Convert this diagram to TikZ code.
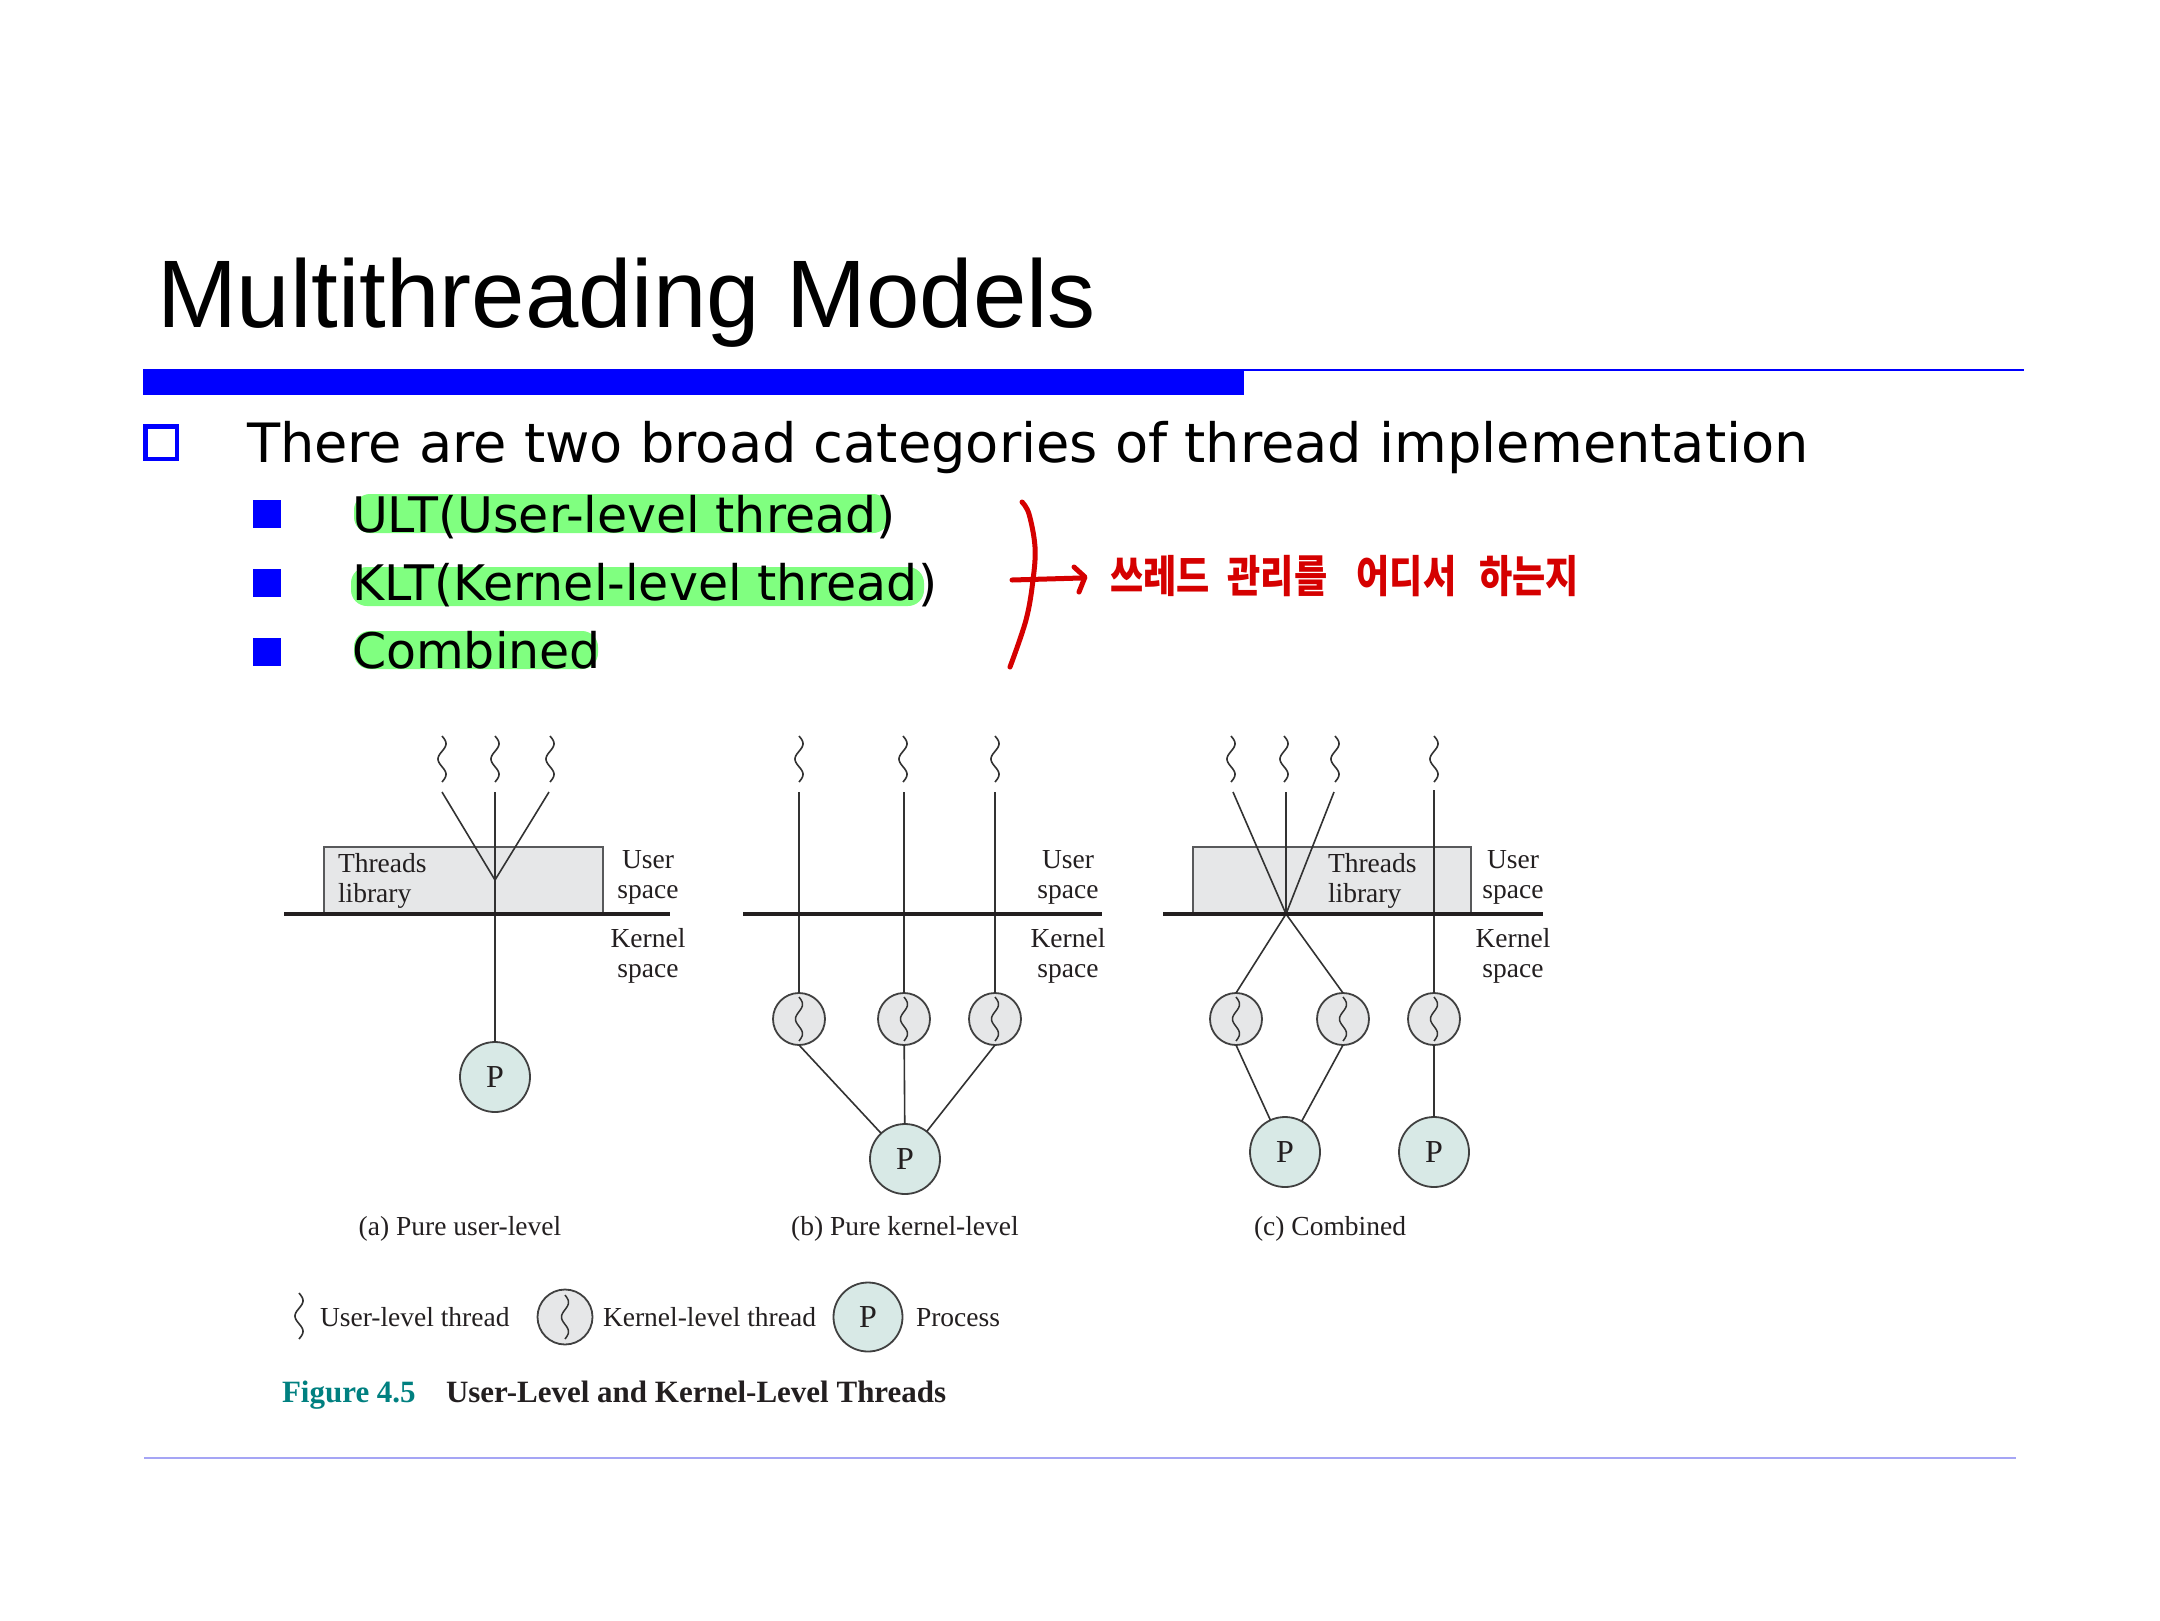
\documentclass[tikz,border=0pt]{standalone}
\usepackage{fontspec}
\setmainfont{Liberation Serif}
\newfontfamily\arialf{Liberation Sans}
\newfontfamily\verdf{DejaVu Sans}
\newfontfamily\krf{Noto Sans CJK KR}
\definecolor{hl}{RGB}{128,255,128}
\definecolor{annred}{RGB}{213,0,0}
\definecolor{figtext}{RGB}{35,31,32}
\definecolor{linec}{RGB}{50,50,50}
\definecolor{circc}{RGB}{64,64,64}
\definecolor{boxc}{RGB}{88,89,91}
\definecolor{kfill}{RGB}{230,231,232}
\definecolor{procfill}{RGB}{216,233,230}
\definecolor{figteal}{RGB}{0,128,128}
\definecolor{botline}{RGB}{165,165,245}
\begin{document}
\begin{tikzpicture}[x=1pt,y=-1pt,
  every node/.style={inner sep=0pt, outer sep=0pt},
  lbl/.style={text=figtext, font=\fontsize{27.5}{30}\selectfont},
  conn/.style={draw=linec, line width=1.6pt},
  sepline/.style={draw=figtext, line width=4.5pt},
  libbox/.style={draw=boxc, line width=1.5pt, fill=kfill, minimum width=279pt, minimum height=68pt, anchor=north west},
  proc/.style={circle, draw=circc, line width=1.8pt, fill=procfill, minimum size=70pt, text=figtext, font=\fontsize{32}{32}\selectfont},
  kthr/.style={circle, draw=circc, line width=1.8pt, fill=kfill, minimum size=52pt,
    path picture={\draw[line width=1.5pt, draw=linec, shift={(path picture bounding box.center)}]
      plot[domain=0:1, samples=40, variable=\t, smooth] ({3.5*sin(540*\t)},{44*\t-22});}},
  uthr/.pic={\draw[line width=1.6pt, draw=linec]
      plot[domain=0:1, samples=50, variable=\t, smooth] ({4*sin(540*\t)},{46*\t-23});},
  lvtwo/.style={anchor=base west, font=\verdf\fontsize{49}{56}\selectfont},
  redpen/.style={draw=annred, line width=5pt, line cap=round, line join=round}
]
\useasboundingbox (0,0) rectangle (2160,1620);
\fill[white] (0,0) rectangle (2160,1620);

% ---------- title and rules ----------
\node[anchor=base west, font=\arialf\fontsize{96}{110}\selectfont] (title) at (157,327) {Multithreading Models};
\fill[blue] (143,369) rectangle (1244,395);
\fill[blue] (1244,368.5) rectangle (2024,371);
\draw[draw=botline, line width=2.2pt] (144,1458) -- (2016,1458);

% ---------- bullets ----------
\draw[blue, line width=4.5pt] (145.25,426.25) rectangle (176.75,458.75);
\node[anchor=base west, font=\verdf\fontsize{54.2}{60}\selectfont] (l1) at (247,462) {There are two broad categories of thread implementation};

\fill[blue] (253,500) rectangle (281,528);
\fill[blue] (253,569) rectangle (281,597);
\fill[blue] (253,638) rectangle (281,666);

\fill[hl, rounded corners=16pt] (354,494) rectangle (889,533);
\fill[hl, rounded corners=16pt] (351,567) rectangle (924,606);
\fill[hl, rounded corners=16pt] (354,631) rectangle (598,669);

\node[lvtwo] (ult) at (352,532) {ULT(User-level thread)};
\node[lvtwo] (klt) at (352,600) {KLT(Kernel-level thread)};
\node[lvtwo] (comb) at (352,668) {Combined};

% ---------- red annotation ----------
\draw[redpen] plot[smooth, tension=0.6] coordinates {(1022,502) (1029,514) (1035,547) (1033,580) (1026,620) (1010,667)};
\coordinate (arrS) at (1012,580);
\coordinate (arrE) at (1081,578);
\draw[redpen] (arrS) -- (arrE);
\draw[redpen] (1074,567) -- (1085,577) -- (1079,592);
\node[anchor=base west, text=annred, font=\krf\bfseries\fontsize{44}{50}\selectfont] (note) at (1110,592)
  {\scalebox{0.82}[1]{쓰레드\hspace{22pt}관리를\hspace{36pt}어디서\hspace{28pt}하는지}};

% ---------- panel (a) ----------
\node[libbox] (liba) at (324,847) {};
\node[lbl, anchor=base west, align=left] (tla) at (338,902) {Threads\\library};
\pic at (442,759) {uthr};
\pic at (495,759) {uthr};
\pic at (550,759) {uthr};
\coordinate (a1) at (442,792);
\coordinate (a2) at (495,792);
\coordinate (a3) at (549,792);
\coordinate (av) at (495,880);
\node[proc] (Pa) at (495,1077) {P};
\draw[conn] (a1) -- (av);
\draw[conn] (a3) -- (av);
\draw[conn] (a2) -- (Pa);
\draw[sepline] (284,914) -- (670,914);
\node[lbl, anchor=base, align=center] (usa) at (648,898) {User\\space};
\node[lbl, anchor=base, align=center] (ksa) at (648,977) {Kernel\\space};
\node[lbl, anchor=base] (capa) at (460,1235) {(a) Pure user-level};

% ---------- panel (b) ----------
\pic at (799,759) {uthr};
\pic at (903,759) {uthr};
\pic at (995,759) {uthr};
\coordinate (b1) at (799,792);
\coordinate (b2) at (904,792);
\coordinate (b3) at (995,792);
\node[kthr] (kb1) at (799,1019) {};
\node[kthr] (kb2) at (904,1019) {};
\node[kthr] (kb3) at (995,1019) {};
\node[proc] (Pb) at (905,1159) {P};
\draw[conn] (b1) -- (kb1);
\draw[conn] (b2) -- (kb2);
\draw[conn] (b3) -- (kb3);
\draw[conn] (kb1.south) -- (Pb);
\draw[conn] (kb2) -- (Pb);
\draw[conn] (kb3.south) -- (Pb);
\draw[sepline] (743,914) -- (1102,914);
\node[lbl, anchor=base, align=center] (usb) at (1068,898) {User\\space};
\node[lbl, anchor=base, align=center] (ksb) at (1068,977) {Kernel\\space};
\node[lbl, anchor=base] (capb) at (905,1235) {(b) Pure kernel-level};

% ---------- panel (c) ----------
\node[libbox, minimum width=278pt] (libc) at (1193,847) {};
\node[lbl, anchor=base west, align=left] (tlc) at (1328,902) {Threads\\library};
\pic at (1231,759) {uthr};
\pic at (1284,759) {uthr};
\pic at (1335,759) {uthr};
\pic at (1434,759) {uthr};
\coordinate (c1) at (1233,792);
\coordinate (c2) at (1286,792);
\coordinate (c3) at (1334,792);
\coordinate (c4) at (1434,790);
\coordinate (cx) at (1286,914);
\node[kthr] (kc1) at (1236,1019) {};
\node[kthr] (kc2) at (1343,1019) {};
\node[kthr] (kc3) at (1434,1019) {};
\node[proc] (Pc1) at (1285,1152) {P};
\node[proc] (Pc2) at (1434,1152) {P};
\draw[conn] (c1) -- (cx);
\draw[conn] (c2) -- (cx);
\draw[conn] (c3) -- (cx);
\draw[conn] (cx) -- (kc1.north);
\draw[conn] (cx) -- (kc2.north);
\draw[conn] (c4) -- (kc3);
\draw[conn] (kc1.south) -- (Pc1);
\draw[conn] (kc2.south) -- (Pc1);
\draw[conn] (kc3) -- (Pc2);
\draw[sepline] (1163,914) -- (1543,914);
\node[lbl, anchor=base, align=center] (usc) at (1513,898) {User\\space};
\node[lbl, anchor=base, align=center] (ksc) at (1513,977) {Kernel\\space};
\node[lbl, anchor=base] (capc) at (1330,1235) {(c) Combined};

% ---------- legend ----------
\pic at (299,1316) {uthr};
\node[lbl, anchor=base west] (lg1) at (320,1326) {User-level thread};
\node[kthr, minimum size=55pt] (lgk) at (565,1317) {};
\node[lbl, anchor=base west] (lg2) at (603,1326) {Kernel-level thread};
\node[proc, minimum size=69pt] (lgp) at (868,1317) {P};
\node[lbl, anchor=base west] (lg3) at (916,1326) {Process};

% ---------- figure caption ----------
\node[anchor=base west, text=figteal, font=\bfseries\fontsize{31}{36}\selectfont] (fignum) at (282,1402) {Figure 4.5};
\node[anchor=base west, text=figtext, font=\bfseries\fontsize{31}{36}\selectfont] (figttl) at (446,1402) {User-Level and Kernel-Level Threads};
\end{tikzpicture}
\end{document}
